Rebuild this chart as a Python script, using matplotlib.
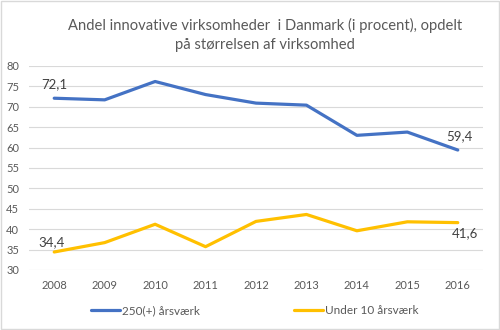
import matplotlib
matplotlib.use("Agg")
import matplotlib.pyplot as plt
from matplotlib.patches import Rectangle

years = ["2008", "2009", "2010", "2011", "2012", "2013", "2014", "2015", "2016"]
large = [72.1, 71.7, 76.2, 73.0, 70.9, 70.4, 63.0, 63.8, 59.4]
small = [34.4, 36.7, 41.2, 35.7, 41.9, 43.6, 39.6, 41.8, 41.6]
large_name = "250(+) årsværk"
small_name = "Under 10 årsværk"
title = "Andel innovative virksomheder  i Danmark (i procent), opdelt\npå størrelsen af virksomhed"

plt.rcParams["font.family"] = ["Lato", "DejaVu Sans"]
text_grey = "#595959"

fig = plt.figure(figsize=(5, 3.3), dpi=100)
ax = fig.add_axes([0.058, 0.182, 0.908, 0.618])

x = range(len(years))
ax.plot(x, large, color="#4472C4", lw=2.3, label=large_name, solid_capstyle="round")
ax.plot(x, small, color="#FFC000", lw=2.3, label=small_name, solid_capstyle="round")

ax.set_xlim(-0.5, len(years) - 0.5)
ax.set_ylim(30, 80)
ax.set_yticks(range(30, 81, 5))
ax.set_xticks(list(x))
ax.set_xticklabels(years)
ax.tick_params(length=0, labelsize=8, colors=text_grey)
ax.tick_params(axis="x", pad=7)
ax.tick_params(axis="y", pad=7)
ax.grid(axis="y", color="#D9D9D9", lw=0.8)
ax.set_axisbelow(True)
for s in ax.spines.values():
    s.set_visible(False)

lab = dict(fontsize=9.5, color="#404040", ha="center", textcoords="offset points")
ax.annotate("72,1", (0, large[0]), xytext=(0, 6), va="bottom", **lab)
ax.annotate("59,4", (8, large[-1]), xytext=(1, 6), va="bottom", **lab)
ax.annotate("34,4", (0, small[0]), xytext=(-2, 3), va="bottom", **lab)
ax.annotate("41,6", (8, small[-1]), xytext=(5, -3), va="top", **lab)

fig.text(0.53, 0.893, title, ha="center", va="center", fontsize=10.6,
         color=text_grey, linespacing=1.45)

fig.legend(loc="center", bbox_to_anchor=(0.51, 0.058), ncol=2, frameon=False,
           fontsize=8.5, handlelength=2.4, handletextpad=0.2, columnspacing=8,
           labelcolor=text_grey)

fig.patches.append(Rectangle((0.002, 0.003), 0.995, 0.994, transform=fig.transFigure,
                             fill=False, edgecolor="#D9D9D9", lw=1))

fig.savefig("out.png", dpi=100)
